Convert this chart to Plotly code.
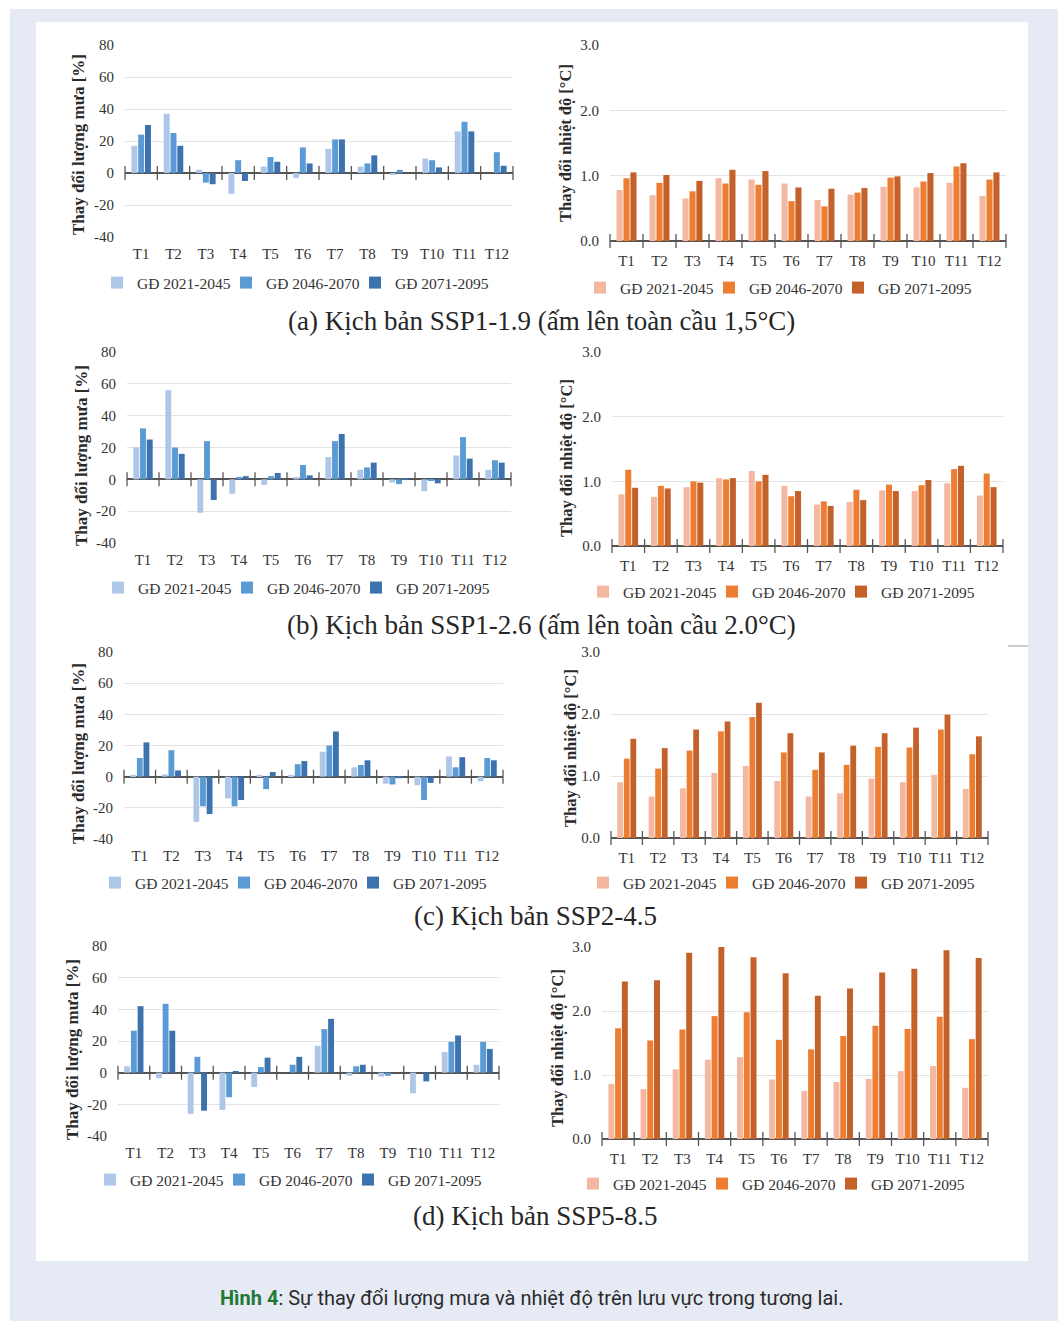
import numpy as np
import plotly.graph_objects as go

# ---------------- data ----------------
months = ["T1", "T2", "T3", "T4", "T5", "T6", "T7", "T8", "T9", "T10", "T11", "T12"]
periods = ["GĐ 2021-2045", "GĐ 2046-2070", "GĐ 2071-2095"]
rain_ticks = [-40, -20, 0, 20, 40, 60, 80]
temp_ticks = [0.0, 1.0, 2.0, 3.0]

# (a) SSP1-1.9
rain_a_p1 = [17, 37, 2, -13, 4, -3, 15, 4, -1, 9, 26, 0]
rain_a_p2 = [24, 25, -6, 8, 10, 16, 21, 6, 2, 8, 32, 13]
rain_a_p3 = [30, 17, -7, -5, 7, 6, 21, 11, 0, 3.5, 26, 4.5]
temp_a_p1 = [0.78, 0.70, 0.65, 0.96, 0.94, 0.88, 0.63, 0.71, 0.83, 0.82, 0.89, 0.69]
temp_a_p2 = [0.96, 0.89, 0.76, 0.88, 0.86, 0.61, 0.53, 0.74, 0.97, 0.91, 1.14, 0.94]
temp_a_p3 = [1.05, 1.01, 0.92, 1.09, 1.07, 0.82, 0.80, 0.81, 0.99, 1.04, 1.19, 1.05]

# (b) SSP1-2.6
rain_b_p1 = [20, 56, -21, -9, -3.5, 1.5, 14, 6, -2, -7.5, 15, 6]
rain_b_p2 = [32, 20, 24, 1.5, 2, 9, 24, 7.5, -3, -1, 26.5, 12]
rain_b_p3 = [25, 16, -13, 2, 4, 2.5, 28.5, 10.5, 0.5, -2.5, 13, 10.5]
temp_b_p1 = [0.80, 0.76, 0.91, 1.05, 1.16, 0.93, 0.64, 0.68, 0.86, 0.85, 0.97, 0.78]
temp_b_p2 = [1.18, 0.93, 1.00, 1.03, 1.00, 0.77, 0.69, 0.87, 0.95, 0.94, 1.19, 1.12]
temp_b_p3 = [0.90, 0.89, 0.98, 1.05, 1.10, 0.85, 0.62, 0.71, 0.85, 1.02, 1.24, 0.91]

# (c) SSP2-4.5
rain_c_p1 = [0.5, 1.5, -29, -14, 0.5, 0.5, 16, 6, -4.5, -5.5, 13, -3]
rain_c_p2 = [12, 17, -19, -19, -8, 8, 20, 7.5, -5, -15, 6, 12]
rain_c_p3 = [22, 4, -24, -15, 3, 10, 29, 10.5, -1, -4, 12.5, 10.5]
temp_c_p1 = [0.90, 0.67, 0.80, 1.05, 1.16, 0.92, 0.67, 0.72, 0.96, 0.90, 1.02, 0.79]
temp_c_p2 = [1.28, 1.12, 1.41, 1.72, 1.95, 1.38, 1.10, 1.18, 1.47, 1.46, 1.75, 1.35]
temp_c_p3 = [1.60, 1.45, 1.75, 1.88, 2.18, 1.69, 1.38, 1.49, 1.69, 1.78, 1.99, 1.64]

# (d) SSP5-8.5
rain_d_p1 = [4, -3.5, -26, -23.5, -9, 0, 17, -2, -2.5, -13, 13, 5]
rain_d_p2 = [26.5, 43.5, 10, -15.5, 3.5, 5, 27.5, 4, -2, 0, 19.5, 19.5]
rain_d_p3 = [42, 26.5, -24, 1, 9.5, 10, 34, 5, 0, -5.5, 23.5, 15]
temp_d_p1 = [0.86, 0.78, 1.09, 1.24, 1.28, 0.93, 0.75, 0.89, 0.94, 1.06, 1.14, 0.80]
temp_d_p2 = [1.73, 1.54, 1.71, 1.92, 1.98, 1.55, 1.40, 1.61, 1.77, 1.72, 1.91, 1.56]
temp_d_p3 = [2.46, 2.48, 2.91, 3.00, 2.84, 2.59, 2.24, 2.35, 2.60, 2.66, 2.95, 2.83]

scenario_titles = [
    "(a) Kịch bản SSP1-1.9 (ấm lên toàn cầu 1,5°C)",
    "(b) Kịch bản SSP1-2.6 (ấm lên toàn cầu 2.0°C)",
    "(c) Kịch bản SSP2-4.5",
    "(d) Kịch bản SSP5-8.5",
]
rain_title = "Thay đổi lượng mưa [%]"
temp_title = "Thay đổi nhiệt độ [°C]"
caption_label = "Hình 4"
caption_text = ": Sự thay đổi lượng mưa và nhiệt độ trên lưu vực trong tương lai."

rain_sets = [
    [rain_a_p1, rain_a_p2, rain_a_p3],
    [rain_b_p1, rain_b_p2, rain_b_p3],
    [rain_c_p1, rain_c_p2, rain_c_p3],
    [rain_d_p1, rain_d_p2, rain_d_p3],
]
temp_sets = [
    [temp_a_p1, temp_a_p2, temp_a_p3],
    [temp_b_p1, temp_b_p2, temp_b_p3],
    [temp_c_p1, temp_c_p2, temp_c_p3],
    [temp_d_p1, temp_d_p2, temp_d_p3],
]

# ---------------- styling / layout ----------------
W, H = 1058, 1321
rain_colors = ["#AEC7E8", "#5B9BD5", "#3C72AD"]
temp_colors = ["#F4B8A0", "#ED7D31", "#C4602A"]
SERIF = "Liberation Serif, Times New Roman, serif"
TXT = "#333333"
AXC = "#555555"

def px_x(p):
    return p / W

def px_y(p):
    return 1 - p / H

# pixel boxes: (x0, x1, ytop, ybottom)
rain_boxes = [(125, 513, 45, 237), (127, 511, 352, 543), (124, 503, 652, 839), (118, 499, 946, 1136)]
temp_boxes = [(610, 1006, 45, 241), (612, 1003, 352, 546), (611, 988, 652, 838), (602, 988, 947, 1139)]
rain_title_pos = [(78, 145), (81, 456), (78, 754), (72, 1050)]
temp_title_pos = [(565, 143), (567, 458), (570, 748), (557, 1048)]
rain_leg_pos = [(97, 283), (98, 588), (95, 883), (90, 1180)]
temp_leg_pos = [(580, 288), (583, 592), (583, 883), (573, 1184)]
sub_pos = [(541, 321), (541, 625), (535, 916), (535, 1216)]

fig = go.Figure()
layout = {}
annotations = []
shapes = []

# background frame and white panel
shapes.append(dict(type="rect", xref="paper", yref="paper", x0=px_x(10), x1=1.0, y0=0.0, y1=px_y(9),
                   fillcolor="#E6EAF5", line=dict(width=0), layer="below"))
shapes.append(dict(type="rect", xref="paper", yref="paper", x0=px_x(36), x1=px_x(1028), y0=px_y(1261), y1=px_y(22),
                   fillcolor="#FFFFFF", line=dict(width=0), layer="below"))
shapes.append(dict(type="line", xref="paper", yref="paper", x0=px_x(1008), x1=px_x(1028), y0=px_y(646), y1=px_y(646),
                   line=dict(color="#9a9a9a", width=1)))

xidx = np.arange(len(months))
bounds = np.arange(len(months) + 1) - 0.5

ax_n = 0
for r in range(4):
    for kind in ("rain", "temp"):
        ax_n += 1
        xa = "x" if ax_n == 1 else f"x{ax_n}"
        ya = "y" if ax_n == 1 else f"y{ax_n}"
        xkey = "xaxis" if ax_n == 1 else f"xaxis{ax_n}"
        ykey = "yaxis" if ax_n == 1 else f"yaxis{ax_n}"
        lg = "legend" if ax_n == 1 else f"legend{ax_n}"
        if kind == "rain":
            box = rain_boxes[r]; sets = rain_sets[r]; cols = rain_colors
            tvals = rain_ticks; ttext = [str(v) for v in rain_ticks]
            yrange = [rain_ticks[0], rain_ticks[-1]]
            tpos = rain_title_pos[r]; ttl = rain_title; tsize = 17
            lpos = rain_leg_pos[r]; xstand = 6
        else:
            box = temp_boxes[r]; sets = temp_sets[r]; cols = temp_colors
            tvals = temp_ticks; ttext = [f"{v:.1f}" for v in temp_ticks]
            yrange = [temp_ticks[0], temp_ticks[-1]]
            tpos = temp_title_pos[r]; ttl = temp_title; tsize = 16.5
            lpos = temp_leg_pos[r]; xstand = 9
        x0, x1, yt, yb = box
        for k in range(3):
            fig.add_trace(go.Bar(
                x=xidx, y=sets[k], name=periods[k], marker=dict(color=cols[k], line=dict(width=0)),
                xaxis=xa, yaxis=ya, legend=lg, offsetgroup=str(k),
            ))
        # invisible spacer entry so the last legend label is not clipped
        fig.add_trace(go.Scatter(
            x=[None], y=[None], mode="lines", name=" ", line=dict(width=0, color="rgba(0,0,0,0)"),
            xaxis=xa, yaxis=ya, legend=lg, hoverinfo="skip", showlegend=True,
        ))
        # tick marks crossing the zero line at category boundaries
        fig.add_trace(go.Scatter(
            x=bounds, y=[0] * len(bounds), mode="markers", xaxis=xa, yaxis=ya,
            marker=dict(symbol="line-ns", size=10, line=dict(color=AXC, width=1.3)),
            showlegend=False, hoverinfo="skip", cliponaxis=False,
        ))
        layout[xkey] = dict(
            domain=[px_x(x0), px_x(x1)], anchor=ya, range=[-0.5, len(months) - 0.5],
            tickmode="array", tickvals=list(xidx), ticktext=months, showgrid=False,
            zeroline=False, showline=False, ticks="", ticklabelstandoff=xstand, automargin=False,
            tickfont=dict(family=SERIF, size=15, color=TXT), fixedrange=True,
        )
        layout[ykey] = dict(
            domain=[px_y(yb), px_y(yt)], anchor=xa, range=yrange,
            tickmode="array", tickvals=tvals, ticktext=ttext,
            showgrid=True, gridcolor="#E3E3E3", gridwidth=1, automargin=False,
            zeroline=True, zerolinecolor=AXC, zerolinewidth=1.5, showline=False, ticks="",
            ticklabelstandoff=10, tickfont=dict(family=SERIF, size=15, color=TXT), fixedrange=True,
        )
        layout[lg] = dict(
            orientation="h", xref="container", yref="container",
            x=px_x(lpos[0]), y=px_y(lpos[1]), xanchor="left", yanchor="middle",
            bgcolor="rgba(0,0,0,0)", font=dict(family=SERIF, size=15.5, color=TXT),
            itemwidth=30, entrywidth=84, entrywidthmode="pixels", traceorder="normal",
            itemclick=False, itemdoubleclick=False,
        )
        annotations.append(dict(
            text=f"<b>{ttl}</b>", x=px_x(tpos[0]), y=px_y(tpos[1]), xref="paper", yref="paper",
            textangle=-90, showarrow=False, font=dict(family=SERIF, size=tsize, color="#2a2a2a"),
            xanchor="center", yanchor="middle",
        ))
    annotations.append(dict(
        text=scenario_titles[r], x=px_x(sub_pos[r][0]), y=px_y(sub_pos[r][1]), xref="paper", yref="paper",
        showarrow=False, font=dict(family=SERIF, size=27, color="#262626"),
        xanchor="center", yanchor="middle",
    ))

annotations.append(dict(
    text=f"<b><span style='color:#1E7A35'>{caption_label}</span></b>{caption_text}",
    x=px_x(531), y=px_y(1298), xref="paper", yref="paper", showarrow=False,
    font=dict(family="Roboto, Noto Sans, sans-serif", size=20, color="#2b2b2b"),
    xanchor="center", yanchor="middle",
))

fig.update_layout(
    width=W, height=H, margin=dict(l=0, r=0, t=0, b=0, autoexpand=False),
    paper_bgcolor="#FFFFFF", plot_bgcolor="rgba(0,0,0,0)",
    barmode="group", bargap=0.37, bargroupgap=0.12,
    shapes=shapes, annotations=annotations, hovermode=False,
    **layout,
)

fig.write_html("out.html", config={"displayModeBar": False},
               post_script="document.body.style.margin='0px';document.body.style.overflow='hidden';")
